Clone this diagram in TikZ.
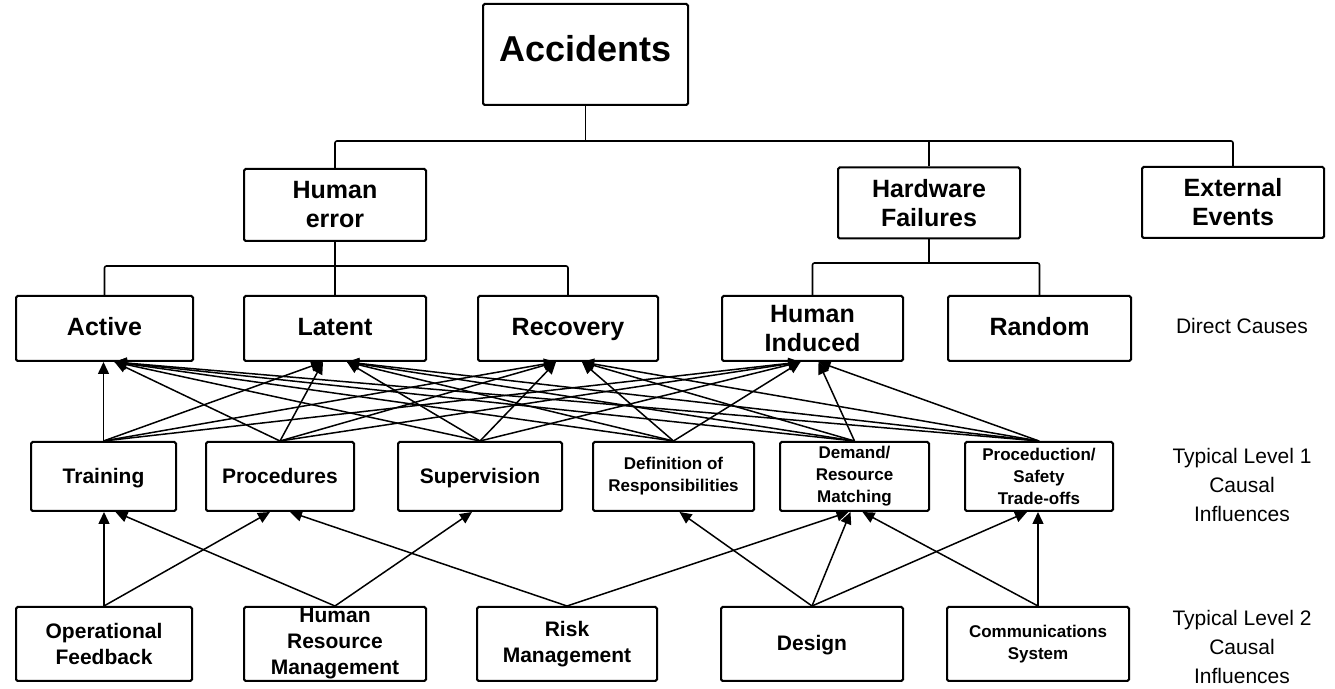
\documentclass[tikz,border=0pt]{standalone}
\usepackage{fontspec}
\setmainfont{Liberation Sans}
\usepackage{tikz}
\usetikzlibrary{positioning,arrows.meta}

\begin{document}
\begin{tikzpicture}[
  x=0.5pt, y=-0.5pt,
  box/.style={draw, line width=1pt, rounded corners=0.8pt, align=center, inner sep=0pt},
  oneline/.style={text height=0.72em, text depth=0.02em},
  big/.style={font=\fontsize{18}{20}\selectfont\bfseries},
  mid/.style={font=\fontsize{12.5}{14.5}\selectfont\bfseries},
  lvl/.style={font=\fontsize{10.5}{13}\selectfont\bfseries},
  small/.style={font=\fontsize{8.5}{11}\selectfont\bfseries},
  note/.style={font=\fontsize{10.5}{14.5}\selectfont, align=center},
  tree/.style={line width=0.8pt, rounded corners=1pt},
  arr/.style={-{Triangle[length=6pt,width=5.5pt]}, line width=0.75pt},
]
  \useasboundingbox (0,0) rectangle (1335,689);

  % top of the tree
  \node[box, big, oneline, minimum width=102.5pt, minimum height=50.5pt] (acc) at (585.5,54.5) {Accidents};
  \node[box, mid, minimum width=91pt, minimum height=36pt] (herr) at (335,205) {Human\\error};
  \node[box, mid, minimum width=91pt, minimum height=35.5pt] (hwf) at (929,203) {Hardware\\Failures};
  \node[box, mid, minimum width=91pt, minimum height=35.5pt] (ext) at (1233,202.5) {External\\Events};

  % direct causes
  \node[box, mid, oneline, minimum width=88.5pt, minimum height=32.5pt] (active) at (104.5,328.5) {Active};
  \node[box, mid, oneline, minimum width=91pt, minimum height=32.5pt, right=24.5pt of active] (latent) {Latent};
  \node[box, mid, oneline, minimum width=90pt, minimum height=32.5pt, right=25pt of latent] (recov) {Recovery};
  \node[box, mid, minimum width=90.5pt, minimum height=32.5pt, right=31pt of recov] (hind) {Human\\Induced};
  \node[box, mid, oneline, minimum width=91.5pt, minimum height=32.5pt, right=21.5pt of hind] (rand) {Random};

  % level 1 influences
  \node[box, lvl, oneline, minimum width=72.5pt, minimum height=34.5pt] (train) at (103.5,476.5) {Training};
  \node[box, lvl, oneline, minimum width=74pt, minimum height=34.5pt, right=14pt of train] (proc) {Procedures};
  \node[box, lvl, oneline, minimum width=82pt, minimum height=34.5pt, right=21pt of proc] (sup) {Supervision};
  \node[box, small, minimum width=80.5pt, minimum height=34.5pt, right=14.5pt of sup] (defr) {Definition of\\Responsibilities};
  \node[box, small, minimum width=74.5pt, minimum height=34.5pt, right=12pt of defr] (dem) {Demand/\\Resource\\Matching};
  \node[box, small, minimum width=74pt, minimum height=34.5pt, right=17pt of dem] (prod) {Proceduction/\\Safety\\Trade-offs};

  % level 2 influences
  \node[box, lvl, minimum width=88pt, minimum height=37pt] (opf) at (104,644) {Operational\\Feedback};
  \node[box, lvl, minimum width=91pt, minimum height=37pt, right=25pt of opf] (hrm) {Human\\Resource\\Management};
  \node[box, lvl, minimum width=90pt, minimum height=37pt, right=24.5pt of hrm] (risk) {Risk\\Management};
  \node[box, lvl, oneline, minimum width=91pt, minimum height=37pt, right=31pt of risk] (des) {Design};
  \node[box, small, minimum width=91pt, minimum height=37pt, right=21pt of des] (comm) {Communications\\System};

  % row captions
  \node[note] (dcause) at (1242,326) {Direct Causes};
  \node[note] (cap1) at (1242,485) {Typical Level 1\\Causal\\Influences};
  \node[note] (cap2) at (1242,647) {Typical Level 2\\Causal\\Influences};

  % tree lines
  \coordinate (bar) at (0,141);
  \coordinate (hbar) at (0,266);
  \coordinate (fbar) at (0,263);
  \draw[tree] (acc.south) -- (acc.south |- bar);
  \draw[tree] (herr.north) |- (ext.north |- bar) -- (ext.north);
  \draw[tree] (hwf.north) -- (hwf.north |- bar);
  \draw[tree] (herr.south) -- (herr.south |- hbar);
  \draw[tree] (active.north) |- (recov.north |- hbar) -- (recov.north);
  \draw[tree] (latent.north) -- (latent.north |- hbar);
  \draw[tree] (hwf.south) -- (hwf.south |- fbar);
  \draw[tree] (hind.north) |- (rand.north |- fbar) -- (rand.north);

  % level 1 -> direct causes
  \draw[arr] (train.north) -- (train.north |- active.south);
  \foreach \src in {proc,sup,defr,dem,prod}
    \draw[arr] (\src.north) -- ([xshift=5pt]active.south);
  \foreach \src in {train,proc}
    \draw[arr] (\src.north) -- ([xshift=-6pt]latent.south);
  \foreach \src in {sup,defr,dem,prod}
    \draw[arr] (\src.north) -- ([xshift=6pt]latent.south);
  \foreach \src in {train,proc,sup}
    \draw[arr] (\src.north) -- ([xshift=-6pt]recov.south);
  \foreach \src in {defr,dem,prod}
    \draw[arr] (\src.north) -- ([xshift=7pt]recov.south);
  \foreach \src in {train,proc,sup,defr}
    \draw[arr] (\src.north) -- ([xshift=-6pt]hind.south);
  \foreach \src in {dem,prod}
    \draw[arr] (\src.north) -- ([xshift=3pt]hind.south);

  % level 2 -> level 1
  \draw[arr] (opf.north) -- (opf.north |- train.south);
  \draw[arr] (opf.north) -- ([xshift=-5pt]proc.south);
  \draw[arr] (hrm.north) -- ([xshift=6pt]train.south);
  \draw[arr] (hrm.north) -- ([xshift=-4pt]sup.south);
  \draw[arr] (risk.north) -- ([xshift=5pt]proc.south);
  \draw[arr] (risk.north) -- ([xshift=-3pt]dem.south);
  \draw[arr] (des.north) -- ([xshift=3pt]defr.south);
  \draw[arr] (des.north) -- ([xshift=-2pt]dem.south);
  \draw[arr] (des.north) -- ([xshift=-6pt]prod.south);
  \draw[arr] (comm.north) -- (comm.north |- prod.south);
  \draw[arr] (comm.north) -- ([xshift=4pt]dem.south);
\end{tikzpicture}
\end{document}
